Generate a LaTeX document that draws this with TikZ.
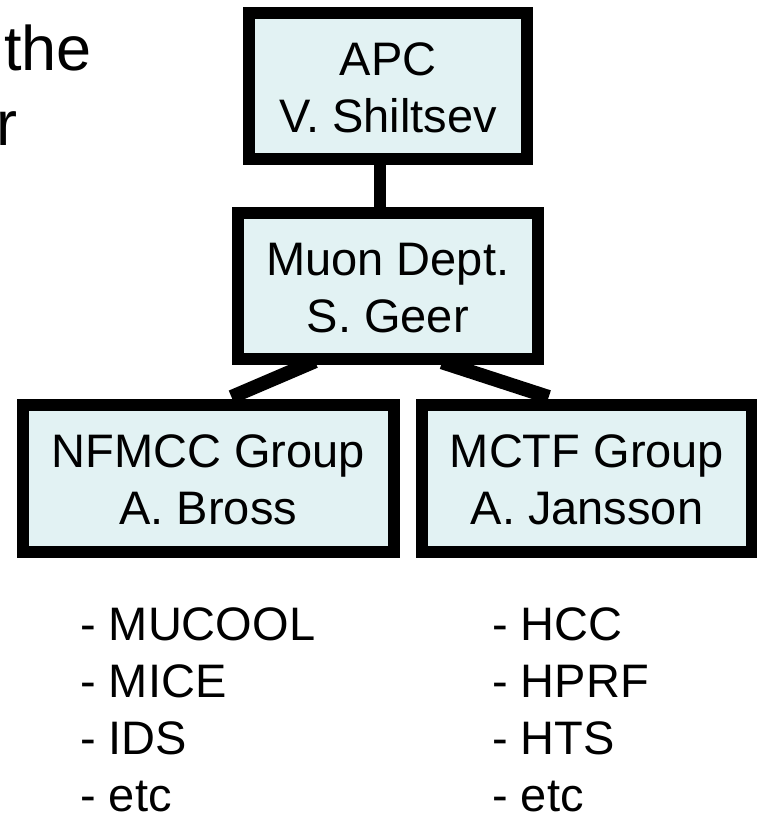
\documentclass[tikz,border=0pt]{standalone}
\usepackage{fontspec}
\setmainfont{Liberation Sans}
\definecolor{boxfill}{RGB}{226,242,243}
\newcommand{\twoline}[2]{\vtop{\baselineskip=57pt\lineskiplimit=-100pt\tabskip=0pt\halign{\hfil##\hfil\cr#1\cr#2\cr}}}
\newcommand{\fourline}[4]{\vtop{\baselineskip=57.3pt\lineskiplimit=-100pt\hbox{#1}\hbox{#2}\hbox{#3}\hbox{#4}}}
\begin{document}
\begin{tikzpicture}[x=1pt,y=-1pt,
  orgbox/.style={draw=black,fill=boxfill,line width=12pt,inner sep=0pt,
    minimum height=146.5pt,text height=36pt,text depth=57pt,
    font=\fontsize{47}{57}\selectfont},
  link/.style={draw=black,line width=12pt},
  slantlink/.style={draw=black,line width=14pt},
  listtext/.style={anchor=base west,inner sep=0pt,font=\fontsize{47}{57}\selectfont},
  bigtext/.style={anchor=base west,inner sep=0pt,font=\fontsize{63}{75}\selectfont}]
\useasboundingbox (0,0) rectangle (757,815);
\clip (0,0) rectangle (757,815);

\node[bigtext] (frag1) at (4,70) {the};
\node[bigtext] (frag2) at (-4,145) {r};

\node[orgbox,minimum width=278pt] (apc) at (388,85.75) {\twoline{APC}{V. Shiltsev}};
\node[orgbox,minimum width=299.5pt] (muon) at (387.75,286) {\twoline{Muon Dept.}{S. Geer}};
\node[orgbox,minimum width=370.5pt] (nfmcc) at (208.25,478.25) {\twoline{NFMCC Group}{A. Bross}};
\node[orgbox,minimum width=330pt] (mctf) at (587,478.25) {\twoline{MCTF Group}{A. Jansson}};

\draw[link] ([shift={(-8,-9)}]apc.south) -- ([shift={(-7.75,0)}]muon.north);
\draw[slantlink] ([shift={(-72.75,-4)}]muon.south) -- ([shift={(23.25,-2)}]nfmcc.north);
\draw[slantlink] ([shift={(54.25,-3)}]muon.south) -- ([shift={(-38.3,-2)}]mctf.north);

\node[listtext] (listL) at (80,640) {\fourline{- MUCOOL}{- MICE}{- IDS}{- etc}};
\node[listtext] (listR) at (492,640) {\fourline{- HCC}{- HPRF}{- HTS}{- etc}};
\end{tikzpicture}
\end{document}
